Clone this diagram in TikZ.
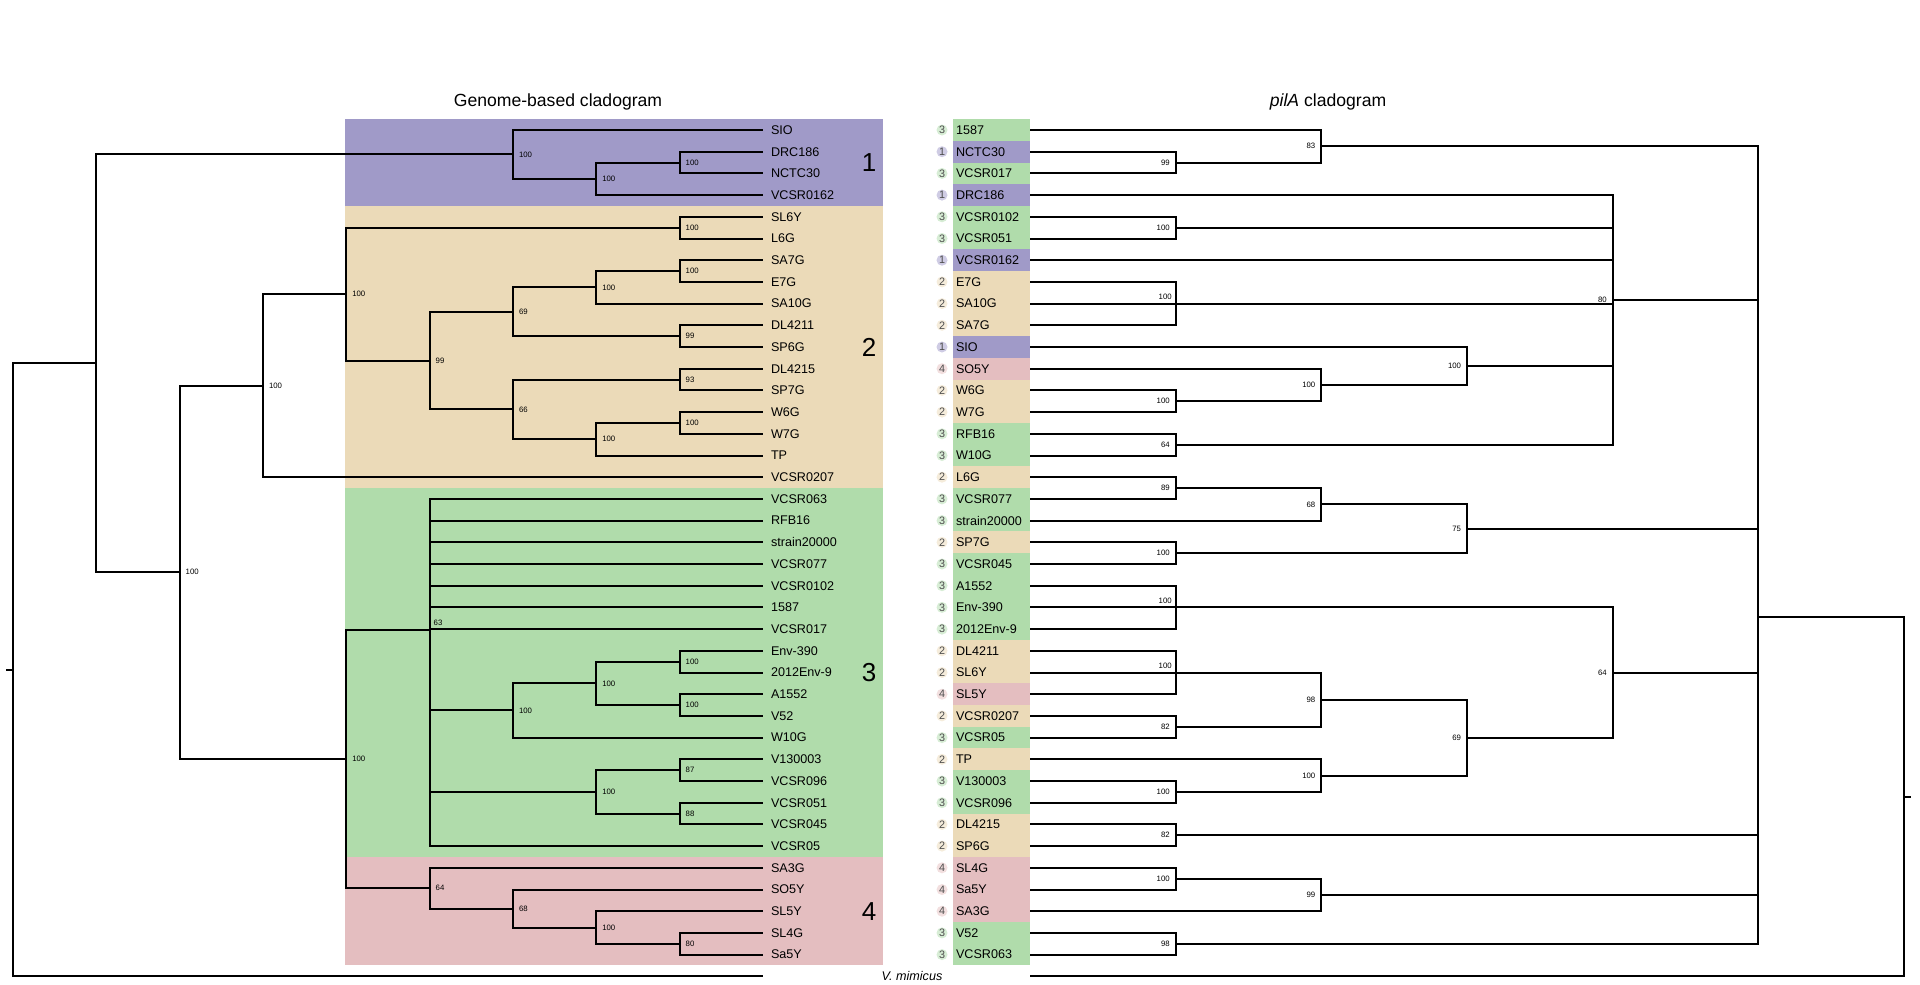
\documentclass[tikz,border=0pt]{standalone}
\usepackage{fontspec}
\setmainfont{Liberation Sans}
\usetikzlibrary{positioning}
\definecolor{c1}{RGB}{160,154,200}
\definecolor{c2}{RGB}{235,218,184}
\definecolor{c3}{RGB}{176,220,171}
\definecolor{c4}{RGB}{228,190,192}
\colorlet{c1light}{c1!50!white}
\colorlet{c2light}{c2!50!white}
\colorlet{c3light}{c3!50!white}
\colorlet{c4light}{c4!50!white}
\tikzset{leaf/.style={anchor=west,inner sep=0pt,font=\fontsize{6.3}{7}\selectfont},
  bsl/.style={anchor=west,inner sep=2.5pt,font=\fontsize{3.9}{4}\selectfont},
  bsr/.style={anchor=east,inner sep=2.5pt,font=\fontsize{3.9}{4}\selectfont},
  bsra/.style={bsr,anchor=south east,inner sep=1.5pt},
  grp/.style={circle,fill=#1,inner sep=0pt,minimum size=5.5pt,text=black!70,font=\fontsize{5.4}{6}\selectfont},
  cladenum/.style={font=\fontsize{13}{14}\selectfont},
  title/.style={font=\fontsize{8.8}{10}\selectfont},}

\begin{document}
\begin{tikzpicture}[x=0.5pt, y=-10.85pt, line width=1pt]
	\useasboundingbox (0,-5.991) rectangle (1920,39.355);

	% clade bands of the genome tree
	\fill[c1] (345,-0.5) rectangle (883,3.5);
	\fill[c2] (345,3.5) rectangle (883,16.5);
	\fill[c3] (345,16.5) rectangle (883,33.5);
	\fill[c4] (345,33.5) rectangle (883,38.5);
	\node[cladenum] (n1) at (869,1.5) {1};
	\node[cladenum] (n2) at (869,10) {2};
	\node[cladenum] (n3) at (869,25) {3};
	\node[cladenum] (n4) at (869,36) {4};

	\node[title] (ttl) at (558,-1.3) {Genome-based cladogram};
	\node[title] (ttr) at (1328,-1.3) {\textit{pilA} cladogram};

	% genome leaves
	\foreach \r/\n in {0/SIO,1/DRC186,2/NCTC30,3/VCSR0162,4/SL6Y,5/L6G,6/SA7G,7/E7G,8/SA10G,
		9/DL4211,10/SP6G,11/DL4215,12/SP7G,13/W6G,14/W7G,15/TP,16/VCSR0207,17/VCSR063,18/RFB16,
		19/strain20000,20/VCSR077,21/VCSR0102,22/1587,23/VCSR017,24/Env-390,25/2012Env-9,26/A1552,
		27/V52,28/W10G,29/V130003,30/VCSR096,31/VCSR051,32/VCSR045,33/VCSR05,34/SA3G,35/SO5Y,
		36/SL5Y,37/SL4G,38/Sa5Y} {
		\coordinate (gl\r) at (763,\r);
		\node[leaf] (gt\r) at (770,\r) {\n};
	}

	% pilA leaves
	\foreach \r/\g/\n in {0/3/1587,1/1/NCTC30,2/3/VCSR017,3/1/DRC186,4/3/VCSR0102,5/3/VCSR051,
		6/1/VCSR0162,7/2/E7G,8/2/SA10G,9/2/SA7G,10/1/SIO,11/4/SO5Y,12/2/W6G,13/2/W7G,14/3/RFB16,
		15/3/W10G,16/2/L6G,17/3/VCSR077,18/3/strain20000,19/2/SP7G,20/3/VCSR045,21/3/A1552,
		22/3/Env-390,23/3/2012Env-9,24/2/DL4211,25/2/SL6Y,26/4/SL5Y,27/2/VCSR0207,28/3/VCSR05,
		29/2/TP,30/3/V130003,31/3/VCSR096,32/2/DL4215,33/2/SP6G,34/4/SL4G,35/4/Sa5Y,36/4/SA3G,
		37/3/V52,38/3/VCSR063} {
		\fill[c\g] (953,\r-0.5) rectangle (1030,\r+0.5);
		\coordinate (pl\r) at (1030,\r);
		\node[leaf] (pt\r) at (955,\r) {\n};
		\node[grp=c\g light] (pc\r) at (942,\r) {\g};
	}

	% outgroup
	\coordinate (gmim) at (763,39);
	\coordinate (pmim) at (1030,39);
	\node[leaf,anchor=center] (mim) at (912,39) {\textit{V. mimicus}};

	% genome tree
	\coordinate (groot) at (13,24.877);
	\coordinate (gstub) at (6,24.877);
	\coordinate (gA) at (96.3,10.753);
	\foreach \c/\x/\y/\s in {gP/513/1.125/100,gP2/596.3/2.25/100,gP3/679.7/1.5/100,
		gB/179.7/20.381/100,gC/263/11.781/100,gT/346.3/7.5625/100,gS1/679.7/4.5/100,
		gN99/429.7/10.625/99,gN69/513/8.375/69,gN100a/596.3/7.25/100,gN100b/679.7/6.5/100,
		gN99b/679.7/9.5/99,gN66/513/12.875/66,gN93/679.7/11.5/93,gN100c/596.3/14.25/100,
		gN100d/679.7/13.5/100,gG/346.3/28.981/100,gQ/513/26.75/100,gQ1/596.3/25.5/100,
		gQ2/679.7/24.5/100,gQ3/679.7/26.5/100,gRc/596.3/30.5/100,gR1/679.7/29.5/87,
		gR2/679.7/31.5/88,gPk/429.7/34.9375/64,gPk2/513/35.875/68,gPk3/596.3/36.75/100,
		gPk4/679.7/37.5/80} {
		\coordinate (\c) at (\x,\y);
		\node[bsl] (b\c) at (\c) {\s};
	}
	\coordinate (gGr) at (429.7,23.025);
	\node[bsl,anchor=south west,inner sep=1.5pt] (bgGr) at (gGr) {63};

	\foreach \p/\c in {groot/gA,groot/gmim,gA/gP,gA/gB,gP/gl0,gP/gP2,gP2/gP3,gP2/gl3,gP3/gl1,
		gP3/gl2,gB/gC,gB/gG,gC/gT,gC/gl16,gT/gS1,gT/gN99,gS1/gl4,gS1/gl5,gN99/gN69,gN99/gN66,
		gN69/gN100a,gN69/gN99b,gN100a/gN100b,gN100a/gl8,gN100b/gl6,gN100b/gl7,gN99b/gl9,
		gN99b/gl10,gN66/gN93,gN66/gN100c,gN93/gl11,gN93/gl12,gN100c/gN100d,gN100c/gl15,
		gN100d/gl13,gN100d/gl14,gG/gGr,gG/gPk,gGr/gl17,gGr/gl18,gGr/gl19,gGr/gl20,gGr/gl21,
		gGr/gl22,gGr/gl23,gGr/gQ,gGr/gRc,gGr/gl33,gQ/gQ1,gQ/gl28,gQ1/gQ2,gQ1/gQ3,gQ2/gl24,
		gQ2/gl25,gQ3/gl26,gQ3/gl27,gRc/gR1,gRc/gR2,gR1/gl29,gR1/gl30,gR2/gl31,gR2/gl32,
		gPk/gl34,gPk/gPk2,gPk2/gl35,gPk2/gPk3,gPk3/gl36,gPk3/gPk4,gPk4/gl37,gPk4/gl38}
		\draw (\p) |- (\c);
	\draw (groot) -- (gstub);

	% pilA tree
	\coordinate (proot) at (1904,30.728);
	\coordinate (pstub) at (1911,30.728);
	\coordinate (pM) at (1758.3,22.455);
	\foreach \c/\x/\y/\s in {pN83/1321.3/0.75/83,pN99/1175.7/1.5/99,pN80/1612.7/7.8125/80,
		pN100a/1175.7/4.5/100,pN100c/1467/10.875/100,pN100d/1321.3/11.75/100,
		pN100e/1175.7/12.5/100,pN64b/1175.7/14.5/64,pN75/1467/18.375/75,pN68/1321.3/17.25/68,
		pN89/1175.7/16.5/89,pN100f/1175.7/19.5/100,pN64/1612.7/25/64,pN69/1467/28/69,
		pN98/1321.3/26.25/98,pN82/1175.7/27.5/82,pN100h/1321.3/29.75/100,pN100j/1175.7/30.5/100,
		pN82b/1175.7/32.5/82,pN99s/1321.3/35.25/99,pN100k/1175.7/34.5/100,pN98b/1175.7/37.5/98} {
		\coordinate (\c) at (\x,\y);
		\node[bsr] (b\c) at (\c) {\s};
	}
	\foreach \c/\y in {pN100b/8,pN100g/22,pN100i/25} {
		\coordinate (\c) at (1175.7,\y);
		\node[bsra] (b\c) at (\c) {100};
	}

	\foreach \p/\c in {proot/pM,proot/pmim,pM/pN83,pM/pN80,pM/pN75,pM/pN64,pM/pN82b,pM/pN99s,
		pM/pN98b,pN83/pl0,pN83/pN99,pN99/pl1,pN99/pl2,pN80/pl3,pN80/pN100a,pN80/pl6,pN80/pN100b,
		pN80/pN100c,pN80/pN64b,pN100a/pl4,pN100a/pl5,pN100b/pl7,pN100b/pl8,pN100b/pl9,
		pN100c/pl10,pN100c/pN100d,pN100d/pl11,pN100d/pN100e,pN100e/pl12,pN100e/pl13,
		pN64b/pl14,pN64b/pl15,pN75/pN68,pN75/pN100f,pN68/pN89,pN68/pl18,pN89/pl16,pN89/pl17,
		pN100f/pl19,pN100f/pl20,pN64/pN100g,pN64/pN69,pN100g/pl21,pN100g/pl22,pN100g/pl23,
		pN69/pN98,pN69/pN100h,pN98/pN100i,pN98/pN82,pN100i/pl24,pN100i/pl25,pN100i/pl26,
		pN82/pl27,pN82/pl28,pN100h/pl29,pN100h/pN100j,pN100j/pl30,pN100j/pl31,pN82b/pl32,
		pN82b/pl33,pN99s/pN100k,pN99s/pl36,pN100k/pl34,pN100k/pl35,pN98b/pl37,pN98b/pl38}
		\draw (\p) |- (\c);
	\draw (proot) -- (pstub);
\end{tikzpicture}
\end{document}
